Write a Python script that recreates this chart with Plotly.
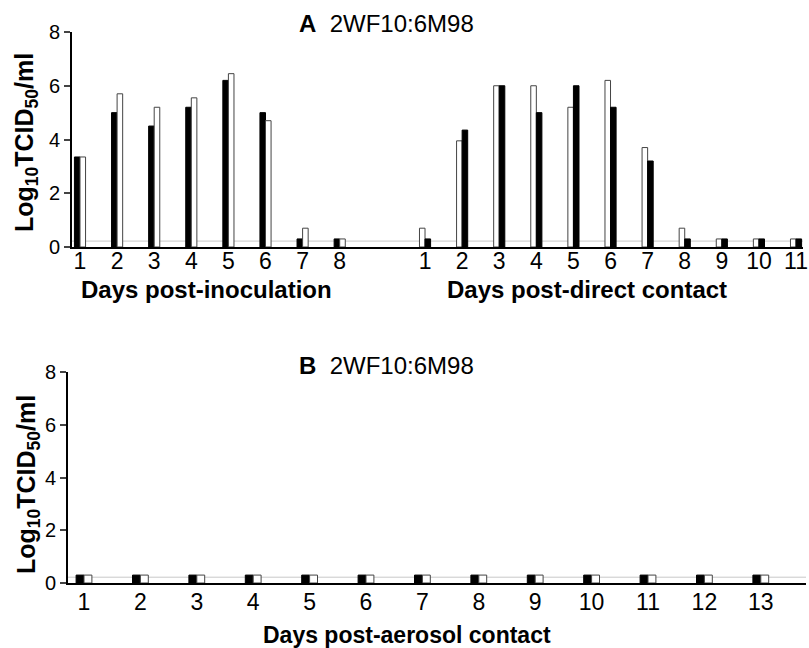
import plotly.graph_objects as go

# ---------------- data ----------------
# Panel A: days post-inoculation (black = first series, white = second series)
inoc_days = [1, 2, 3, 4, 5, 6, 7, 8]
inoc_black = [3.35, 5.0, 4.5, 5.2, 6.2, 5.0, 0.3, 0.3]
inoc_white = [3.35, 5.7, 5.2, 5.55, 6.45, 4.7, 0.7, 0.3]

# Panel A: days post-direct contact (white first, black second)
contact_days = [1, 2, 3, 4, 5, 6, 7, 8, 9, 10, 11]
contact_white = [0.7, 3.95, 6.0, 6.0, 5.2, 6.2, 3.7, 0.7, 0.3, 0.3, 0.3]
contact_black = [0.3, 4.35, 6.0, 5.0, 6.0, 5.2, 3.2, 0.3, 0.3, 0.3, 0.3]

# Panel B: days post-aerosol contact
aerosol_days = list(range(1, 14))
aerosol_black = [0.3] * 13
aerosol_white = [0.3] * 13

DETECTION_LIMIT = 0.22
CONTACT_OFFSET = 9.3  # gap between the two day sequences on panel A's axis
y_ticks = [0, 2, 4, 6, 8]

# ---------------- figure ----------------
W, H = 809, 648
FONT = "Arial, Liberation Sans, Helvetica, sans-serif"
wA = 0.15
wB = 0.14

contact_pos = [d + CONTACT_OFFSET for d in contact_days]

black_style = dict(color="black", line=dict(color="black", width=1))
white_style = dict(color="white", line=dict(color="#444", width=1))

fig = go.Figure()
# Panel A
fig.add_trace(go.Bar(x=inoc_days, y=inoc_black, width=wA, offset=-wA,
                     marker=black_style, xaxis="x", yaxis="y", showlegend=False))
fig.add_trace(go.Bar(x=inoc_days, y=inoc_white, width=wA, offset=0,
                     marker=white_style, xaxis="x", yaxis="y", showlegend=False))
fig.add_trace(go.Bar(x=contact_pos, y=contact_white, width=wA, offset=-wA,
                     marker=white_style, xaxis="x", yaxis="y", showlegend=False))
fig.add_trace(go.Bar(x=contact_pos, y=contact_black, width=wA, offset=0,
                     marker=black_style, xaxis="x", yaxis="y", showlegend=False))
# Panel B
fig.add_trace(go.Bar(x=aerosol_days, y=aerosol_black, width=wB, offset=-wB,
                     marker=black_style, xaxis="x2", yaxis="y2", showlegend=False))
fig.add_trace(go.Bar(x=aerosol_days, y=aerosol_white, width=wB, offset=0,
                     marker=white_style, xaxis="x2", yaxis="y2", showlegend=False))

def px_x(p):
    return p / W

def px_y(p):
    return 1 - p / H

axis_common = dict(showgrid=False, zeroline=False, showline=True,
                   linecolor="black", linewidth=2, automargin=False)

xA_left, xA_right = 72, 803
xB_left, xB_right = 68, 806
spanA = 37.1
spanB = 56.4

fig.update_layout(
    width=W, height=H,
    margin=dict(l=0, r=0, t=0, b=0, pad=0, autoexpand=False),
    paper_bgcolor="white", plot_bgcolor="white",
    barmode="overlay",
    font=dict(family=FONT, color="black"),
    xaxis=dict(**axis_common, domain=[px_x(xA_left), px_x(xA_right)],
               range=[1 - (80 - xA_left) / spanA, 1 + (xA_right - 80) / spanA],
               tickvals=inoc_days + contact_pos,
               ticktext=[str(d) for d in inoc_days] + [str(d) for d in contact_days],
               ticks="", tickfont=dict(size=23), ticklabelstandoff=-8, anchor="y"),
    yaxis=dict(**axis_common, domain=[px_y(247), px_y(32)], range=[0, 8],
               tickvals=y_ticks, ticks="outside", ticklen=6, tickwidth=1.5,
               tickfont=dict(size=20), anchor="x"),
    xaxis2=dict(**axis_common, domain=[px_x(xB_left), px_x(xB_right)],
                range=[1 - (84 - xB_left) / spanB, 1 + (xB_right - 84) / spanB],
                tickvals=aerosol_days, ticktext=[str(d) for d in aerosol_days],
                ticks="", tickfont=dict(size=23), ticklabelstandoff=-3, anchor="y2"),
    yaxis2=dict(**axis_common, domain=[px_y(583), px_y(372)], range=[0, 8],
                tickvals=y_ticks, ticks="outside", ticklen=6, tickwidth=1.5,
                tickfont=dict(size=20), anchor="x2"),
)

# detection limit lines
for xr, yr in (("x", "y"), ("x2", "y2")):
    fig.add_shape(type="line", xref=f"{xr} domain", yref=yr, x0=0, x1=1,
                  y0=DETECTION_LIMIT, y1=DETECTION_LIMIT,
                  line=dict(color="#c8c8c8", width=1), layer="below")

ann = []
ann.append(dict(text="<b>A</b>  2WF10:6M98", x=px_x(297), y=px_y(24), xref="paper", yref="paper",
                xanchor="left", yanchor="middle", showarrow=False, font=dict(size=24)))
ann.append(dict(text="<b>B</b>  2WF10:6M98", x=px_x(297), y=px_y(366), xref="paper", yref="paper",
                xanchor="left", yanchor="middle", showarrow=False, font=dict(size=24)))
ann.append(dict(text="<b>Days post-inoculation</b>", x=px_x(206), y=px_y(289), xref="paper", yref="paper",
                xanchor="center", yanchor="middle", showarrow=False, font=dict(size=24)))
ann.append(dict(text="<b>Days post-direct contact</b>", x=px_x(587), y=px_y(289), xref="paper", yref="paper",
                xanchor="center", yanchor="middle", showarrow=False, font=dict(size=24)))
ann.append(dict(text="<b>Days post-aerosol contact</b>", x=px_x(407), y=px_y(635), xref="paper", yref="paper",
                xanchor="center", yanchor="middle", showarrow=False, font=dict(size=23)))
ytitle = "<b>Log<sub>10</sub>TCID<sub>50</sub>/ml</b>"
ann.append(dict(text=ytitle, x=px_x(26), y=px_y(143), xref="paper", yref="paper", textangle=-90,
                xanchor="center", yanchor="middle", showarrow=False, font=dict(size=25)))
ann.append(dict(text=ytitle, x=px_x(28), y=px_y(485), xref="paper", yref="paper", textangle=-90,
                xanchor="center", yanchor="middle", showarrow=False, font=dict(size=25)))
fig.update_layout(annotations=ann)

fig.write_html("out.html")
